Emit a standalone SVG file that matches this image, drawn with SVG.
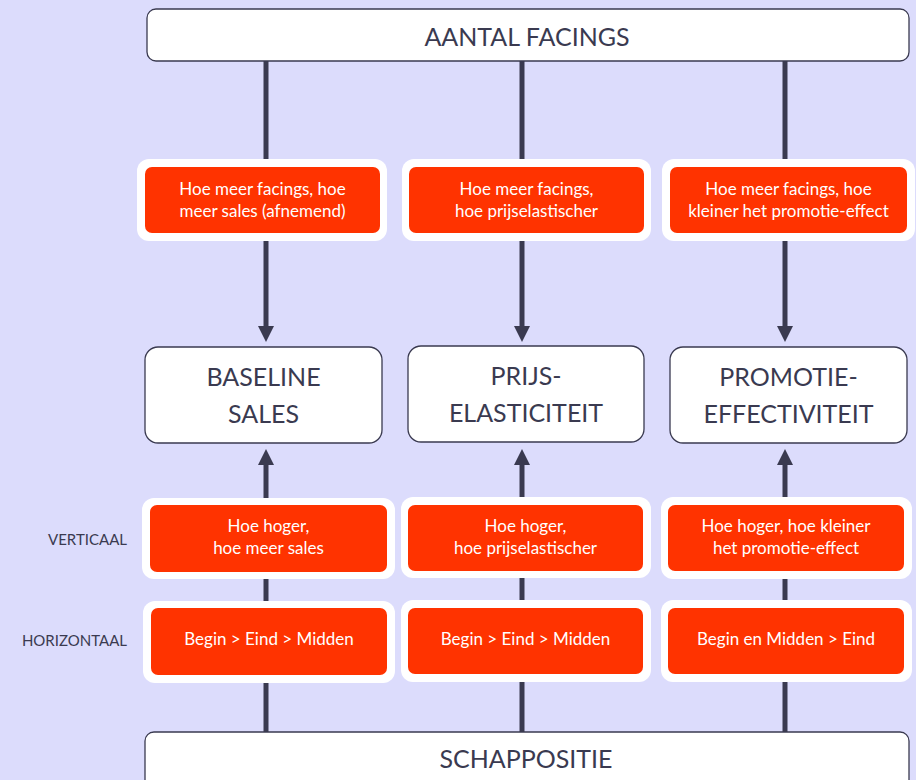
<svg xmlns="http://www.w3.org/2000/svg" width="916" height="780" viewBox="0 0 916 780">
<defs>
<style>
.bg{fill:#DCDCFC}
.wbox{fill:#FFFFFF;stroke:#3A3A50;stroke-width:1.3}
.frame{fill:#FFFFFF}
.ora{fill:#FF3300}
.big{font-family:Lato,"Liberation Sans",sans-serif;font-size:25px;fill:#3A3A50;text-anchor:middle}
.small{font-family:Lato,"Liberation Sans",sans-serif;font-size:17px;fill:#FFFFFF;text-anchor:middle}
.lab{font-family:Lato,"Liberation Sans",sans-serif;font-size:15px;fill:#3A3A50;text-anchor:end}
.conn{stroke:#3A3A50;stroke-width:5;fill:none}
</style>
<marker id="ah" markerUnits="userSpaceOnUse" markerWidth="16" markerHeight="16" refX="0" refY="8" orient="auto" viewBox="0 0 16 16">
<path d="M0,0 L16,8 L0,16 z" fill="#3A3A50"/>
</marker>
</defs>
<rect class="bg" x="0" y="0" width="916" height="780"/>

<g id="connectors">
<line class="conn" x1="266" y1="61" x2="266" y2="326" marker-end="url(#ah)"/>
<line class="conn" x1="522" y1="61" x2="522" y2="326" marker-end="url(#ah)"/>
<line class="conn" x1="785" y1="61" x2="785" y2="326" marker-end="url(#ah)"/>
<line class="conn" x1="266" y1="733" x2="266" y2="465" marker-end="url(#ah)"/>
<line class="conn" x1="522" y1="733" x2="522" y2="465" marker-end="url(#ah)"/>
<line class="conn" x1="785" y1="733" x2="785" y2="465" marker-end="url(#ah)"/>
</g>

<g id="aantal-facings">
<rect class="wbox" x="147" y="9" width="762" height="52" rx="9"/>
<text class="big" x="527" y="46">AANTAL FACINGS</text>
</g>

<g id="schappositie">
<rect class="wbox" x="145" y="732" width="764" height="70" rx="9"/>
<text class="big" x="526" y="768">SCHAPPOSITIE</text>
</g>

<g id="baseline-sales">
<rect class="wbox" x="145" y="347" width="237" height="96" rx="13"/>
<text class="big" x="263.5" y="386">BASELINE</text>
<text class="big" x="263.5" y="423">SALES</text>
</g>

<g id="prijselasticiteit">
<rect class="wbox" x="408" y="346" width="236" height="96" rx="13"/>
<text class="big" x="526" y="385">PRIJS-</text>
<text class="big" x="526" y="422">ELASTICITEIT</text>
</g>

<g id="promotie-effectiviteit">
<rect class="wbox" x="670" y="347" width="237" height="96" rx="13"/>
<text class="big" x="788.5" y="386">PROMOTIE-</text>
<text class="big" x="788.5" y="423">EFFECTIVITEIT</text>
</g>

<g id="facings-sales">
<rect class="frame" x="137" y="159" width="250" height="82" rx="12"/>
<rect class="ora" x="145" y="167" width="235" height="66" rx="7"/>
<text class="small" x="262.5" y="195">Hoe meer facings, hoe</text>
<text class="small" x="262.5" y="217">meer sales (afnemend)</text>
</g>

<g id="facings-prijs">
<rect class="frame" x="402" y="159" width="249" height="82" rx="12"/>
<rect class="ora" x="409" y="167" width="235" height="66" rx="7"/>
<text class="small" x="526.5" y="195">Hoe meer facings,</text>
<text class="small" x="526.5" y="217">hoe prijselastischer</text>
</g>

<g id="facings-promotie">
<rect class="frame" x="662" y="159" width="253" height="82" rx="12"/>
<rect class="ora" x="670" y="167" width="237" height="66" rx="7"/>
<text class="small" x="788.5" y="195">Hoe meer facings, hoe</text>
<text class="small" x="788.5" y="217">kleiner het promotie-effect</text>
</g>

<g id="verticaal-sales">
<rect class="frame" x="142" y="498" width="253" height="81" rx="12"/>
<rect class="ora" x="150" y="505" width="237" height="67" rx="7"/>
<text class="small" x="268.5" y="532">Hoe hoger,</text>
<text class="small" x="268.5" y="554">hoe meer sales</text>
</g>

<g id="verticaal-prijs">
<rect class="frame" x="401" y="497" width="250" height="81" rx="12"/>
<rect class="ora" x="408" y="505" width="235" height="66" rx="7"/>
<text class="small" x="525.5" y="532">Hoe hoger,</text>
<text class="small" x="525.5" y="554">hoe prijselastischer</text>
</g>

<g id="verticaal-promotie">
<rect class="frame" x="661" y="497" width="251" height="82" rx="12"/>
<rect class="ora" x="668" y="505" width="236" height="66" rx="7"/>
<text class="small" x="786" y="532">Hoe hoger, hoe kleiner</text>
<text class="small" x="786" y="554">het promotie-effect</text>
</g>

<g id="horizontaal-sales">
<rect class="frame" x="143" y="601" width="252" height="82" rx="12"/>
<rect class="ora" x="151" y="608" width="236" height="67" rx="7"/>
<text class="small" x="269" y="645">Begin &gt; Eind &gt; Midden</text>
</g>

<g id="horizontaal-prijs">
<rect class="frame" x="401" y="600" width="250" height="82" rx="12"/>
<rect class="ora" x="408" y="608" width="235" height="66" rx="7"/>
<text class="small" x="525.5" y="645">Begin &gt; Eind &gt; Midden</text>
</g>

<g id="horizontaal-promotie">
<rect class="frame" x="661" y="600" width="251" height="82" rx="12"/>
<rect class="ora" x="668" y="608" width="236" height="66" rx="7"/>
<text class="small" x="786" y="645">Begin en Midden &gt; Eind</text>
</g>

<g id="labels">
<text class="lab" x="127" y="545">VERTICAAL</text>
<text class="lab" x="127" y="646">HORIZONTAAL</text>
</g>
</svg>
